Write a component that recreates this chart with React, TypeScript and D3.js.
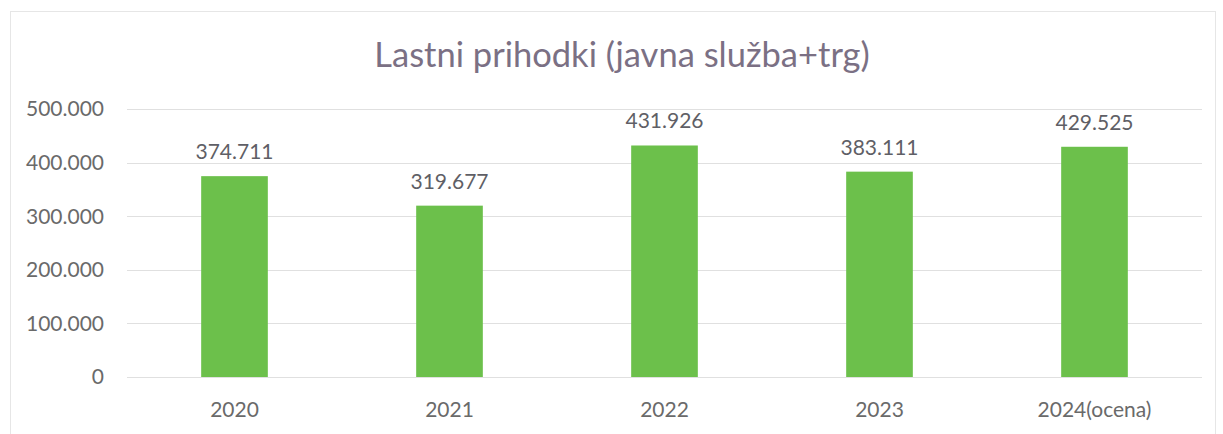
import React, { useEffect, useRef } from "react";
import * as d3 from "d3";

const categories = ["2020", "2021", "2022", "2023", "2024(ocena)"];
const values = [374711, 319677, 431926, 383111, 429525];
const yTicks = [0, 100000, 200000, 300000, 400000, 500000];
const title = "Lastni prihodki (javna služba+trg)";

const W = 1223;
const H = 434;
const FONT = "Lato, 'Open Sans', sans-serif";

const fmt = (v: number) => d3.format(",")(v).replace(/,/g, ".");

export default function App() {
  const ref = useRef<SVGSVGElement>(null);
  useEffect(() => {
    const svg = d3.select(ref.current);
    svg.selectAll("*").remove();
    const left = 127, right = 1202, top = 109, bottom = 377;

    svg.append("rect").attr("x", 0).attr("y", 0).attr("width", W).attr("height", H).attr("fill", "#fff");
    svg.append("rect").attr("x", 10.5).attr("y", 11.5).attr("width", 1205).attr("height", 440)
      .attr("fill", "none").attr("stroke", "#e6e6e6");

    const x = d3.scaleBand<string>().domain(categories).range([left, right]).paddingInner(0.69).paddingOuter(0.345);
    const y = d3.scaleLinear().domain([0, 500000]).range([bottom, top]);

    svg.append("text").attr("x", 622).attr("y", 67).attr("text-anchor", "middle")
      .attr("font-family", FONT).attr("font-size", 34.5).attr("fill", "#7b7084").text(title);

    const g = svg.append("g");
    yTicks.forEach((t) => {
      g.append("line").attr("x1", left).attr("x2", right).attr("y1", Math.round(y(t)) + 0.5).attr("y2", Math.round(y(t)) + 0.5)
        .attr("stroke", "#e0e0e0").attr("stroke-width", 1);
      g.append("text").attr("x", 104).attr("y", y(t)).attr("dy", "0.35em").attr("text-anchor", "end")
        .attr("font-family", FONT).attr("font-size", 21).attr("fill", "#6a6a6a").text(t === 0 ? "0" : fmt(t));
    });

    categories.forEach((c, i) => {
      const bx = x(c)!;
      const v = values[i];
      g.append("rect").attr("x", bx).attr("y", y(v)).attr("width", x.bandwidth()).attr("height", y(0) - y(v))
        .attr("fill", "#6cc04b");
      g.append("text").attr("x", bx + x.bandwidth() / 2).attr("y", y(v) - 17).attr("text-anchor", "middle")
        .attr("font-family", FONT).attr("font-size", 21).attr("fill", "#5f5f66").text(fmt(v));
      g.append("text").attr("x", bx + x.bandwidth() / 2).attr("y", 417).attr("text-anchor", "middle")
        .attr("font-family", FONT).attr("font-size", 21).attr("fill", "#6a6a6a").text(c);
    });
  }, []);
  return <svg ref={ref} width={W} height={H} style={{ position: "absolute", left: 0, top: 0, display: "block" }} />;
}
